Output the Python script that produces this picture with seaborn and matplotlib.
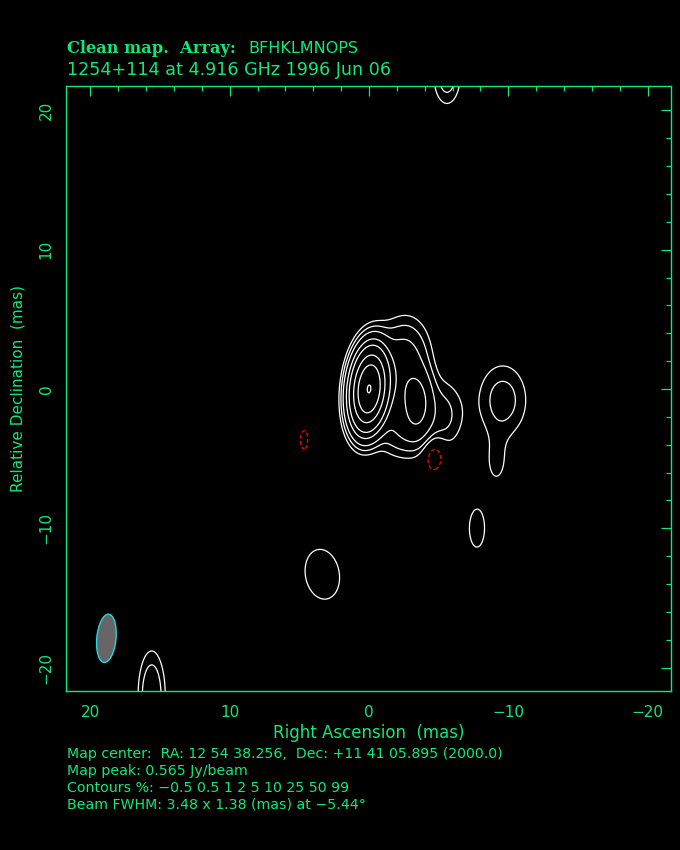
import numpy as np
import matplotlib
matplotlib.use("Agg")
import matplotlib.pyplot as plt
from matplotlib.patches import Ellipse
import seaborn as sns

# Clean components: offset (mas), peak fraction, sigma major/minor (mas), PA (deg)
comp_ra = [0.0, -3.45, -1.8, -2.8, -5.3, -2.6, -9.6, -9.15, -7.75, 3.35, 15.6, -5.6, 4.66, -4.66]
comp_dec = [0.0, -0.95, 0.5, 2.6, -1.8, -3.0, -0.8, -5.3, -10.0, -13.3, -22.0, 22.5, -3.65, -4.7]
comp_amp = [1.0, 0.062, 0.03, 0.015, 0.012, 0.015, 0.0135, 0.006, 0.0075, 0.0075, 0.0186, 0.0148, -0.0055, -0.011]
comp_maj = [1.45, 1.4, 2.0, 1.6, 1.6, 1.2, 1.74, 1.5, 1.5, 2.0, 1.97, 1.36, 1.5, 0.95]
comp_min = [0.65, 0.65, 1.2, 1.0, 1.0, 1.2, 1.17, 0.7, 0.6, 1.35, 0.6, 0.64, 0.6, 0.55]
comp_pa = [-5.44, 0, 0, 0, 0, 0, 0, 0, 0, 10, 0, 0, 0, 0]

contour_pct = [-0.5, 0.5, 1, 2, 5, 10, 25, 50, 99]
ticks = [20, 10, 0, -10, -20]

beam_fwhm = [3.48, 1.38]
beam_pa = -5.44
beam_pos = [18.85, -17.9]

header = ["Clean map.  Array:", "BFHKLMNOPS", "1254+114 at 4.916 GHz 1996 Jun 06"]
footer = [
    "Map center:  RA: 12 54 38.256,  Dec: +11 41 05.895 (2000.0)",
    "Map peak: 0.565 Jy/beam",
    "Contours %: \u22120.5 0.5 1 2 5 10 25 50 99",
    "Beam FWHM: 3.48 x 1.38 (mas) at \u22125.44\u00b0",
]

green = "#10e878"

sns.set_style("dark", {"axes.facecolor": "black", "figure.facecolor": "black"})
plt.rcParams["font.family"] = ["DejaVu Sans"]
plt.rcParams["axes.unicode_minus"] = True

# build the map from the components
x = np.linspace(-23, 23, 700)
y = np.linspace(-23, 23, 700)
X, Y = np.meshgrid(x, y)
Z = np.zeros_like(X)
for ra, dec, amp, smaj, smin, pa in zip(comp_ra, comp_dec, comp_amp, comp_maj, comp_min, comp_pa):
    t = np.deg2rad(pa)
    dx, dy = X - ra, Y - dec
    a = dx * np.sin(t) + dy * np.cos(t)
    b = dx * np.cos(t) - dy * np.sin(t)
    Z += amp * np.exp(-(a**2 / (2 * smaj**2) + b**2 / (2 * smin**2)))

fig = plt.figure(figsize=(6.8, 8.5), dpi=100)
ax = fig.add_axes([66 / 680, 159 / 850, 605 / 680, 605 / 850])
ax.set_facecolor("black")

pos = [p / 100 for p in contour_pct if p > 0]
neg = [p / 100 for p in contour_pct if p < 0]
ax.contour(X, Y, Z, levels=pos, colors="white", linewidths=0.9)
ax.contour(X, Y, Z, levels=neg, colors="red", linewidths=0.9, linestyles=[(0, (3, 2))])

beam = Ellipse(beam_pos, width=beam_fwhm[1], height=beam_fwhm[0], angle=-beam_pa,
               facecolor="#666666", edgecolor="#22d8e8", linewidth=1.0)
ax.add_patch(beam)

ax.set_xlim(21.75, -21.68)
ax.set_ylim(-21.68, 21.75)
ax.set_xticks(ticks)
ax.set_yticks(ticks)
ax.set_xticks(np.arange(-20, 21, 2), minor=True)
ax.set_yticks(np.arange(-20, 21, 2), minor=True)
ax.set_xticklabels([str(t).replace("-", "\u2212") for t in ticks])
ax.set_yticklabels([str(t).replace("-", "\u2212") for t in ticks], rotation=90, va="center")
ax.tick_params(which="both", direction="in", top=True, right=True, colors=green, labelsize=11)
ax.tick_params(which="major", length=7.5, width=0.9)
ax.tick_params(which="minor", length=3.6, width=0.9)
ax.tick_params(axis="x", pad=10)
ax.tick_params(axis="y", pad=9)
for s in ax.spines.values():
    s.set_color(green)
    s.set_linewidth(1.0)
    s.set_visible(True)
ax.grid(False)

ax.set_xlabel("Right Ascension  (mas)", color=green, fontsize=12, labelpad=3)
ax.set_ylabel("Relative Declination  (mas)", color=green, fontsize=11, labelpad=9)

fig.text(67 / 680, 1 - 53 / 850, header[0], color=green, fontsize=11.7, family="DejaVu Serif",
         fontweight="bold", va="baseline")
fig.text(248 / 680, 1 - 53 / 850, header[1], color=green, fontsize=11.5, va="baseline")
fig.text(67 / 680, 1 - 75 / 850, header[2], color=green, fontsize=12.6, va="baseline")
for i, line in enumerate(footer):
    fig.text(67 / 680, 1 - (758 + 17 * i) / 850, line, color=green, fontsize=10.2, va="baseline")

fig.savefig("out.png", dpi=100, facecolor="black")
